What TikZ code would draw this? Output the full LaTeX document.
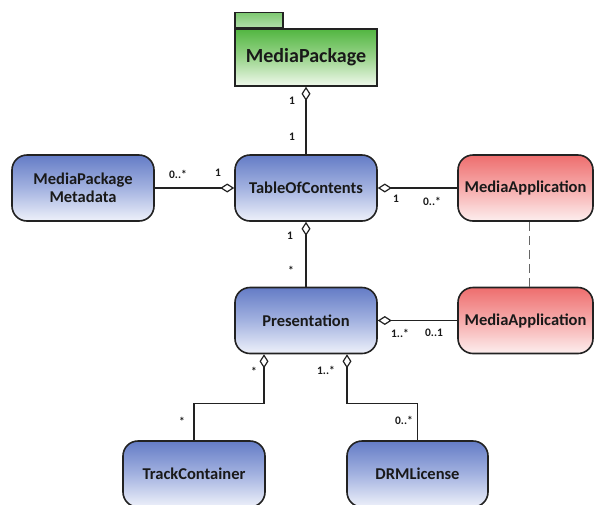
\documentclass[tikz,border=0pt]{standalone}
\usepackage{fontspec}
\setmainfont{Carlito}
\usetikzlibrary{arrows.meta,calc}
\definecolor{edge}{HTML}{222222}
\definecolor{bluetop}{HTML}{647CC6}
\definecolor{bluemid}{HTML}{A3B2E0}
\definecolor{bluebot}{HTML}{EEF1FA}
\definecolor{redtop}{HTML}{EE6E6E}
\definecolor{redmid}{HTML}{F6ABAB}
\definecolor{redbot}{HTML}{FDEEEE}
\definecolor{greentop}{HTML}{52B641}
\definecolor{greenmid}{HTML}{9AD48C}
\definecolor{greenbot}{HTML}{F0F9EC}
\tikzset{
  cls/.style={draw=edge, line width=1.6pt, rounded corners=15pt, minimum width=142pt, minimum height=66pt, align=center, inner sep=0pt, font=\fontsize{16.5}{18}\selectfont\bfseries, text=black!90},
  bluebox/.style={cls, top color=bluetop, bottom color=bluebot, middle color=bluemid},
  redbox/.style={cls, top color=redtop, bottom color=redbot, middle color=redmid, minimum width=135pt},
  assoc/.style={draw=edge, line width=1.6pt},
  agg/.style={assoc, {Diamond[open, fill=white, length=14pt, width=9pt, line width=1.2pt]}-},
  mult/.style={font=\fontsize{11.5}{13}\selectfont\bfseries, text=black!90, inner sep=0pt},
}
\begin{document}
\begin{tikzpicture}[x=1pt,y=1pt]
\useasboundingbox (0,0) rectangle (595,-504);
\clip (0,0) rectangle (595,-504);
% package
\node[draw=edge, line width=1.6pt, top color=greentop, bottom color=greenbot, middle color=greenmid, minimum width=142pt, minimum height=57pt, inner sep=0pt, font=\fontsize{20}{22}\selectfont\bfseries, text=black!90] (pkg) at (306,-57.5) {MediaPackage};
\node[draw=edge, line width=1.6pt, top color=greentop!75!white, bottom color=greentop!45!white, minimum width=48pt, minimum height=15pt, inner sep=0pt, anchor=south west] (tab) at (pkg.north west) {};
% classes
\node[bluebox] (meta) at (83,-188) {MediaPackage\\Metadata};
\node[bluebox] (toc) at (306,-188) {TableOfContents};
\node[redbox] (ma1) at (525.5,-188) {MediaApplication};
\node[bluebox] (pres) at (306,-320.5) {Presentation};
\node[redbox] (ma2) at (525.5,-320.5) {MediaApplication};
\node[bluebox] (track) at (194,-474) {TrackContainer};
\node[bluebox, minimum width=141pt] (drm) at (417.5,-474) {DRMLicense};
% connectors
\draw[agg] (pkg.south) -- (toc.north);
\draw[agg] (toc.west) -- (meta.east);
\draw[agg] (toc.east) -- (ma1.west);
\draw[agg] (toc.south) -- (pres.north);
\draw[agg] (pres.east) -- (ma2.west);
\draw[agg] ([xshift=-42pt]pres.south) -- ++(0,-49) -| (track.north);
\draw[agg] ([xshift=41pt]pres.south) -- ++(0,-49) -| (drm.north);
\draw[draw=black!60, line width=1pt, dash pattern=on 9pt off 5pt] ([xshift=3.5pt]ma1.south) -- ([xshift=3.5pt]ma2.north);
% multiplicities
\node[mult] (m1) at (292,-101) {1};
\node[mult] (m2) at (292,-137) {1};
\node[mult] (m3) at (178,-174) {0..*};
\node[mult] (m4) at (218,-173) {1};
\node[mult] (m5) at (396,-199) {1};
\node[mult] (m6) at (432,-201) {0..*};
\node[mult] (m7) at (290,-236) {1};
\node[mult] (m8) at (291,-270) {*};
\node[mult] (m9) at (400,-333) {1..*};
\node[mult] (m10) at (434,-333) {0..1};
\node[mult] (m11) at (254,-371) {*};
\node[mult] (m12) at (326,-370) {1..*};
\node[mult] (m13) at (182,-421) {*};
\node[mult] (m14) at (404,-420) {0..*};
\end{tikzpicture}
\end{document}
